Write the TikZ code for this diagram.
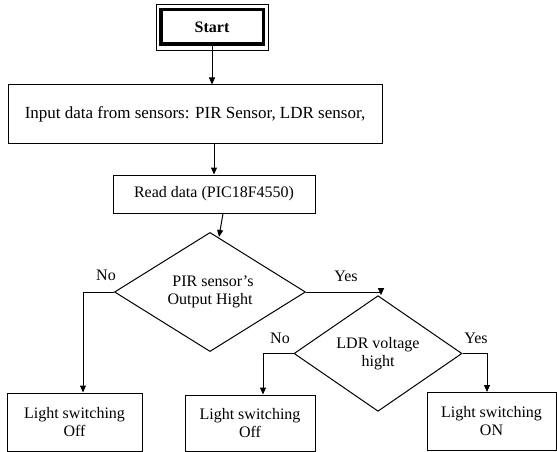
\documentclass[tikz,border=0pt]{standalone}
\usepackage{fontspec}
\setmainfont{Liberation Serif}
\usetikzlibrary{shapes.geometric,arrows.meta}

\begin{document}
\begin{tikzpicture}[x=1pt,y=-1pt,
    font=\fontsize{16}{18}\selectfont,
    box/.style={draw,line width=1pt,rectangle,align=center,inner sep=0pt},
    decision/.style={draw,line width=1pt,diamond,align=center,inner sep=0pt},
    arrow/.style={line width=1pt,-{Triangle[length=7pt,width=6pt]}},
    line/.style={line width=1pt}]
    \useasboundingbox (0,0) rectangle (557,452);
    % start
    \node[box,line width=3.5pt,minimum width=102.5pt,minimum height=34.5pt,font=\fontsize{16}{18}\selectfont\bfseries] (start) at (212,27) {Start};
    \draw[line width=0.8pt] (156,4) rectangle (268,50);
    % sensors
    \node[box,minimum width=374pt,minimum height=58pt,font=\fontsize{17}{19}\selectfont] (input) at (195,114) {Input data from sensors: PIR Sensor, LDR sensor,};
    \node[box,minimum width=202pt,minimum height=38pt] (read) at (214,194) {Read data (PIC18F4550)};
    % decisions
    \node[decision,minimum width=191pt,minimum height=82pt] (pir) at (210,292) {\hspace*{6pt}PIR sensor's\\Output Hight};
    \node[decision,minimum width=168pt,minimum height=81pt] (ldr) at (378,353.5) {LDR voltage\\hight};
    % outputs
    \node[box,minimum width=135pt,minimum height=58pt] (offa) at (74.5,422) {Light switching\\Off};
    \node[box,minimum width=130pt,minimum height=56pt] (offb) at (250,423) {Light switching\\Off};
    \node[box,minimum width=129pt,minimum height=58pt] (on) at (491.5,421.5) {Light switching\\ON};
    % arrows
    \draw[arrow] (start.south) -- (start.south |- input.north);
    \draw[arrow] (read.north |- input.south) -- (read.north);
    \draw[arrow] ([xshift=9pt]read.south) -- ([xshift=9pt,yshift=-5pt]pir.north);
    \draw[arrow] (pir.west) -| ([xshift=8.5pt]offa.north);
    \draw[arrow] (pir.east) -| ([xshift=3pt]ldr.north);
    \draw[arrow] (ldr.west) -| ([xshift=13pt]offb.north);
    \draw[arrow] (ldr.east) -| ([xshift=-4.5pt]on.north);
    % labels
    \node (nopir) at (106,275) {No};
    \node (yespir) at (346,276) {Yes};
    \node (noldr) at (280,338) {No};
    \node (yesldr) at (476,338) {Yes};
\end{tikzpicture}
\end{document}
